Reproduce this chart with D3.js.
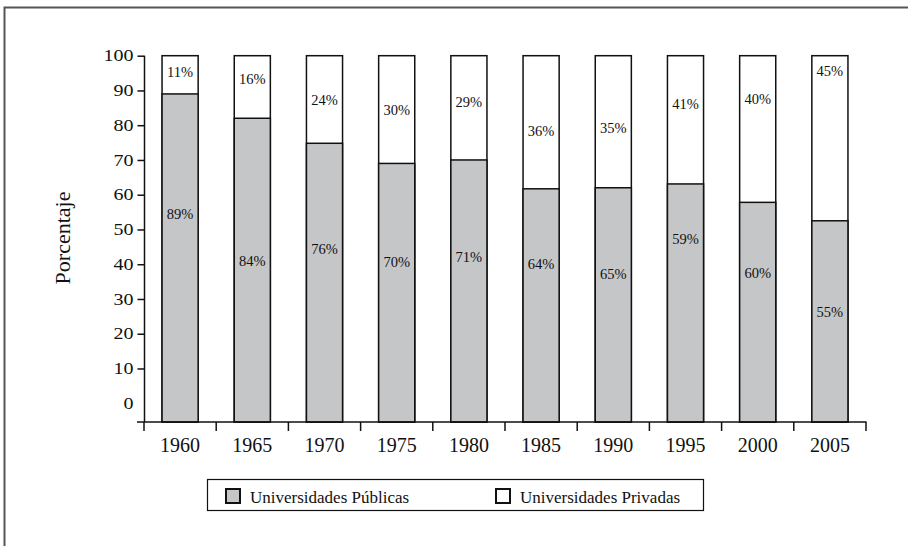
<!DOCTYPE html>
<html>
<head>
<meta charset="utf-8">
<script src="https://cdn.jsdelivr.net/npm/d3@7"></script>
<style>
  html, body { margin: 0; padding: 0; background: #fff; }
  svg { display: block; }
  text { font-family: "Liberation Serif", "Times New Roman", serif; fill: #111; }
</style>
</head>
<body>
<svg id="chart" width="908" height="546"></svg>
<script>
// ---- data ----
const years = ["1960", "1965", "1970", "1975", "1980", "1985", "1990", "1995", "2000", "2005"];
// height of the grey (public) segment as drawn in the picture
const publicBar = [89, 82, 74.8, 69, 70, 61.7, 62, 63.1, 57.8, 52.5];
// printed percentages
const publicPct = [89, 84, 76, 70, 71, 64, 65, 59, 60, 55];
const privatePct = [11, 16, 24, 30, 29, 36, 35, 41, 40, 45];
// where the printed labels sit, in percentage units
const publicLabelAt = [54.5, 41.0, 44.5, 40.7, 42.0, 40.0, 37.1, 47.3, 37.4, 26.4];
const privateLabelAt = [95.2, 93.2, 87.3, 84.4, 86.8, 78.4, 79.3, 86.1, 87.5, 95.7];
const yTicks = [0, 10, 20, 30, 40, 50, 60, 70, 80, 90, 100];
const yFloor = -5.4;
const yTitle = "Porcentaje";
const seriesNames = ["Universidades Públicas", "Universidades Privadas"];
const seriesColors = ["#c5c6c8", "#ffffff"];

// ---- layout ----
const svg = d3.select("#chart");
const x = d3.scaleBand().domain(years).range([144, 866]).paddingInner(0.5).paddingOuter(0.25);
const y = d3.scaleLinear().domain([yFloor, 100]).range([422, 55.7]);

// outer frame (left and top edges)
svg.append("path").attr("d", "M4.5,546V7.5H908")
  .attr("fill", "none").attr("stroke", "#555").attr("stroke-width", 2);

// bars
const g = svg.append("g");
years.forEach((yr, i) => {
  const bx = x(yr), bw = x.bandwidth();
  g.append("rect").attr("x", bx).attr("width", bw)
    .attr("y", y(100)).attr("height", y(yFloor) - y(100))
    .attr("fill", seriesColors[1]).attr("stroke", "#111").attr("stroke-width", 1.5);
  g.append("rect").attr("x", bx).attr("width", bw)
    .attr("y", y(publicBar[i])).attr("height", y(yFloor) - y(publicBar[i]))
    .attr("fill", seriesColors[0]).attr("stroke", "#111").attr("stroke-width", 1.5);
  g.append("text").attr("x", bx + bw / 2).attr("y", y(privateLabelAt[i])).attr("dy", "0.35em")
    .attr("text-anchor", "middle").attr("font-size", 14.5).text(privatePct[i] + "%");
  g.append("text").attr("x", bx + bw / 2).attr("y", y(publicLabelAt[i])).attr("dy", "0.35em")
    .attr("text-anchor", "middle").attr("font-size", 14.5).text(publicPct[i] + "%");
});

// y axis
const yAxis = svg.append("g").attr("transform", "translate(144.5,0)")
  .call(d3.axisLeft(y).tickValues(yTicks).tickSize(7).tickPadding(4).tickFormat(d3.format("d")));
yAxis.select(".domain").attr("d", `M0,${y(100)}V${y(yFloor)}`).attr("stroke", "#111").attr("stroke-width", 1.5);
yAxis.selectAll(".tick line").attr("stroke", "#111").attr("stroke-width", 1.5)
  .filter(d => d === 0).remove();
yAxis.selectAll(".tick text")
  .attr("font-family", "Liberation Serif, serif").attr("font-size", 16).attr("fill", "#111")
  .attr("textLength", d => String(d).length * 10).attr("lengthAdjust", "spacingAndGlyphs");

// x axis
const step = x.step(), gap = step - x.bandwidth();
const bounds = years.map(d => x(d) - gap / 2).concat([x(years[years.length - 1]) + x.bandwidth() + gap / 2]);
const xAxis = svg.append("g");
xAxis.append("line").attr("x1", 137).attr("x2", bounds[bounds.length - 1] + 0.5)
  .attr("y1", y(yFloor)).attr("y2", y(yFloor)).attr("stroke", "#111").attr("stroke-width", 1.5);
xAxis.selectAll("line.tk").data(bounds).join("line").attr("class", "tk")
  .attr("x1", d => d).attr("x2", d => d).attr("y1", y(yFloor)).attr("y2", y(yFloor) + 9)
  .attr("stroke", "#111").attr("stroke-width", 1.5);
xAxis.selectAll("text").data(years).join("text")
  .attr("x", d => x(d) + x.bandwidth() / 2).attr("y", 452)
  .attr("text-anchor", "middle").attr("font-size", 20).text(d => d);

// y title
svg.append("text").attr("transform", "translate(70,238) rotate(-90)")
  .attr("text-anchor", "middle").attr("font-size", 22).text(yTitle);

// legend
const lg = svg.append("g");
lg.append("rect").attr("x", 207.5).attr("y", 479.5).attr("width", 496).attr("height", 31)
  .attr("fill", "none").attr("stroke", "#111").attr("stroke-width", 1.2);
const legX = [226, 496];
seriesNames.forEach((name, i) => {
  lg.append("rect").attr("x", legX[i]).attr("y", 489).attr("width", 14).attr("height", 14)
    .attr("fill", seriesColors[i]).attr("stroke", "#111").attr("stroke-width", 2);
  lg.append("text").attr("x", legX[i] + 24).attr("y", 503).attr("font-size", 17).text(name);
});
</script>
</body>
</html>
